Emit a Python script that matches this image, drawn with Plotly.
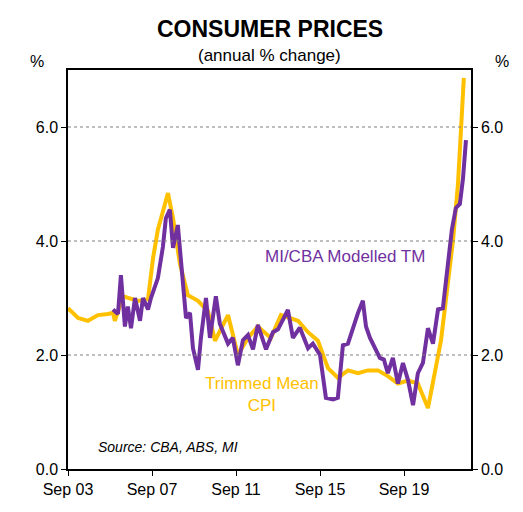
import plotly.graph_objects as go

# decimal years, annual % change
tm_year = [2003.67, 2004.15, 2004.62, 2005.1, 2005.57, 2005.81, 2005.9, 2006.29, 2007.0, 2007.48,
           2007.72, 2007.95, 2008.43, 2008.67, 2009.0, 2009.38, 2009.86, 2010.33, 2010.67, 2011.29,
           2011.76, 2012.24, 2012.71, 2013.33, 2013.81, 2014.62, 2015.1, 2015.57, 2016.05, 2016.52,
           2017.0, 2017.48, 2017.95, 2018.43, 2018.9, 2019.38, 2019.86, 2020.33, 2020.81, 2021.43,
           2022.0, 2022.24, 2022.52]
tm_val = [2.82, 2.65, 2.6, 2.7, 2.72, 2.74, 2.6, 3.03, 2.95, 2.98,
          3.7, 4.2, 4.84, 4.4, 3.6, 3.05, 2.95, 2.77, 2.25, 2.7,
          2.0, 2.3, 2.5, 2.3, 2.7, 2.6, 2.4, 2.25, 1.77, 1.6,
          1.73, 1.68, 1.73, 1.73, 1.63, 1.5, 1.55, 1.5, 1.07, 2.25,
          4.0, 5.0, 6.86]

mod_year = [2005.81, 2006.05, 2006.19, 2006.38, 2006.52, 2006.67, 2006.86, 2007.1, 2007.24, 2007.48,
            2007.62, 2007.95, 2008.19, 2008.33, 2008.52, 2008.67, 2008.9, 2009.14, 2009.29, 2009.48,
            2009.62, 2009.86, 2010.0, 2010.24, 2010.43, 2010.71, 2010.9, 2011.29, 2011.52, 2011.76,
            2012.0, 2012.24, 2012.48, 2012.71, 2013.1, 2013.43, 2013.67, 2014.14, 2014.38, 2014.71,
            2015.1, 2015.33, 2015.67, 2015.95, 2016.29, 2016.52, 2016.76, 2017.0, 2017.24, 2017.48,
            2017.71, 2017.86, 2018.05, 2018.33, 2018.52, 2018.71, 2018.9, 2019.14, 2019.38, 2019.62,
            2019.86, 2020.1, 2020.33, 2020.57, 2020.81, 2021.05, 2021.29, 2021.52, 2021.67, 2021.95,
            2022.14, 2022.33, 2022.48, 2022.62]
mod_val = [2.8, 2.72, 3.4, 2.5, 2.85, 2.47, 3.0, 2.6, 3.0, 2.8,
           3.0, 3.35, 3.9, 4.4, 4.55, 3.88, 4.28, 3.2, 2.65, 2.74,
           2.12, 1.74, 2.3, 3.0, 2.3, 3.03, 2.55, 2.2, 2.3, 1.82,
           2.26, 2.35, 2.1, 2.53, 2.1, 2.4, 2.45, 2.79, 2.3, 2.48,
           2.12, 2.2, 2.0, 1.25, 1.22, 1.25, 2.17, 2.2, 2.5, 2.74,
           2.95, 2.5, 2.3, 2.07, 1.95, 1.92, 1.68, 1.95, 1.5, 1.86,
           1.56, 1.12, 1.68, 1.86, 2.47, 2.2, 2.8, 2.82, 3.3, 4.2,
           4.58, 4.65, 5.1, 5.77]

tick_year = [2003.67, 2007.67, 2011.67, 2015.67, 2019.67]
tick_text = ["Sep 03", "Sep 07", "Sep 11", "Sep 15", "Sep 19"]

gold = "#FFC000"
purple = "#7030A0"

fig = go.Figure()
fig.add_trace(go.Scatter(x=tm_year, y=tm_val, mode="lines", line={"color": gold, "width": 4}))
fig.add_trace(go.Scatter(x=mod_year, y=mod_val, mode="lines", line={"color": purple, "width": 4}))
fig.add_trace(go.Scatter(x=[tick_year[0]], y=[0], yaxis="y2", mode="markers",
                         marker={"opacity": 0}, hoverinfo="skip"))

yax = dict(range=[0, 7], tickvals=[0, 2, 4, 6], ticktext=["0.0", "2.0", "4.0", "6.0"],
           ticks="outside", ticklen=5, tickcolor="black", showline=True, linecolor="black",
           linewidth=1.5, zeroline=False, showgrid=False, tickfont={"size": 16},
           automargin=False)

fig.update_layout(
    width=523, height=512,
    margin={"l": 60, "r": 60, "t": 62, "b": 51, "autoexpand": False},
    plot_bgcolor="white", paper_bgcolor="white",
    font={"family": "Liberation Sans, Arial", "color": "black"},
    showlegend=False,
    xaxis=dict(range=[2003.67, 2022.86], tickvals=tick_year, ticktext=tick_text,
               ticks="outside", ticklen=5, tickcolor="black", showline=True, linecolor="black",
               linewidth=1.5, mirror=True, showgrid=False, zeroline=False,
               tickfont={"size": 16}, automargin=False),
    yaxis=yax,
    yaxis2=dict(yax, overlaying="y", side="right"),
)
for v in [2, 4, 6]:
    fig.add_hline(y=v, line={"color": "grey", "width": 1, "dash": "dot"})

fig.add_annotation(text="<b>CONSUMER PRICES</b>", x=0.5, y=1, xref="paper", yref="paper",
                   xanchor="center", yanchor="top", yshift=62 - 6, showarrow=False,
                   font={"size": 23})
fig.add_annotation(text="(annual % change)", x=0.5, y=1, xref="paper", yref="paper",
                   xanchor="center", yanchor="top", yshift=62 - 36, showarrow=False,
                   font={"size": 17})
fig.add_annotation(text="%", x=0, y=1, xref="paper", yref="paper", xanchor="right",
                   xshift=-22, yshift=-2, yanchor="bottom", showarrow=False, font={"size": 16})
fig.add_annotation(text="%", x=1, y=1, xref="paper", yref="paper", xanchor="left",
                   xshift=22, yshift=-2, yanchor="bottom", showarrow=False, font={"size": 16})
fig.add_annotation(text="MI/CBA Modelled TM", x=2016.85, y=3.73, showarrow=False,
                   font={"size": 17, "color": purple})
fig.add_annotation(text="Trimmed Mean<br>CPI", x=2012.9, y=1.3, showarrow=False,
                   font={"size": 17, "color": gold})
fig.add_annotation(text="<i>Source: CBA, ABS, MI</i>", x=2005.0, y=0.38, xanchor="left",
                   showarrow=False, font={"size": 14})

fig.write_html("out.html")
